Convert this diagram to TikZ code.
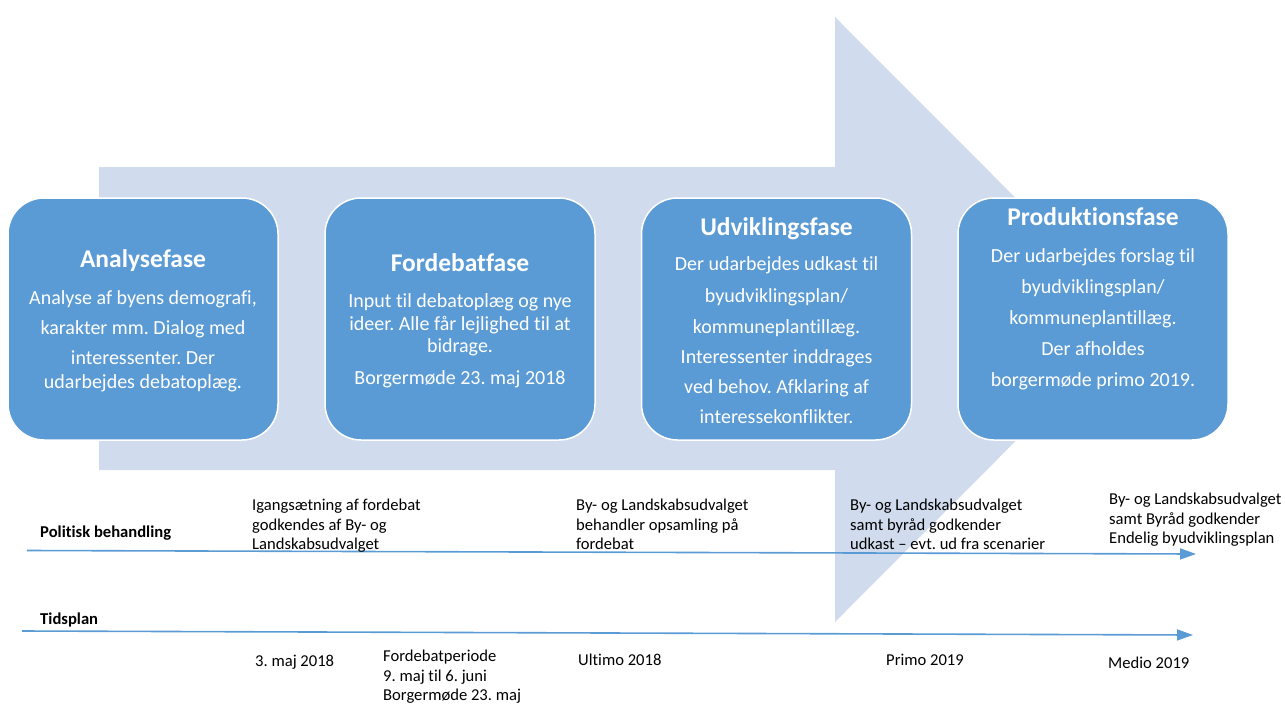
\documentclass[tikz,border=0pt]{standalone}
\usepackage{fontspec}
\setmainfont{Carlito}[Ligatures={TeX,NoCommon}]
\usetikzlibrary{arrows.meta}
\frenchspacing

\definecolor{phaseblue}{RGB}{91,155,213}
\definecolor{arrowshade}{RGB}{208,220,238}

\tikzset{
  phase/.style={draw=white, line width=1.5pt, fill=phaseblue, rounded corners=36pt,
    minimum width=270pt, minimum height=242pt},
  phasetext/.style={text=white, align=center, font=\fontsize{20}{24}\selectfont},
  note/.style={anchor=north west, inner sep=0pt, align=left, font=\fontsize{16.6}{19.6}\selectfont},
  heading/.style={note, font=\fontsize{16.6}{19.6}\selectfont\bfseries},
  timeline/.style={draw=phaseblue, line width=1.6pt, -{Triangle[length=16pt,width=11pt]}},
}
\newcommand{\phasetitle}[1]{{\fontsize{25.5}{30}\selectfont\bfseries #1}}

\begin{document}
\begin{tikzpicture}[x=1pt, y=-1pt]
\useasboundingbox (0,0) rectangle (1285,704);

\fill[arrowshade] (99,167) -- (835,167) -- (835,17) -- (1137,319.5) -- (835,622) -- (835,470) -- (99,470) -- cycle;

\node[phase] (p1) at (143,319) {};
\node[phase] (p2) at (460,319) {};
\node[phase] (p3) at (776.5,319) {};
\node[phase] (p4) at (1093,319) {};

\node[phasetext] (t1) at (143,321) {\phasetitle{Analysefase}\\[13pt]
  Analyse af byens demografi,\\[6pt]
  karakter mm. Dialog med\\[6pt]
  interessenter. Der\\
  udarbejdes debatoplæg.};
\node[phasetext] (t2) at (460,321) {\phasetitle{Fordebatfase}\\[12pt]
  Input til debatoplæg og nye\\[-1pt]
  ideer. Alle får lejlighed til at\\[-2pt]
  bidrage.\\[8pt]
  Borgermøde 23. maj 2018};
\node[phasetext] (t3) at (776.5,321) {\phasetitle{Udviklingsfase}\\[11pt]
  Der udarbejdes udkast til\\[8pt]
  byudviklingsplan/\\[7pt]
  kommuneplantillæg.\\[6pt]
  Interessenter inddrages\\[6pt]
  ved behov. Afklaring af\\[6pt]
  interessekonflikter.};
\node[phasetext] (t4) at (1093,299) {\phasetitle{Produktionsfase}\\[13pt]
  Der udarbejdes forslag til\\[7pt]
  byudviklingsplan/\\[7pt]
  kommuneplantillæg.\\[7pt]
  Der afholdes\\[7pt]
  borgermøde primo 2019.};

\node[heading] (politisk) at (40,526) {Politisk behandling};
\node[heading] (tidsplan) at (40,613) {Tidsplan};

\coordinate (pol start) at (27,550.5);
\coordinate (pol end) at (1196,554);
\coordinate (tid start) at (22,631);
\coordinate (tid end) at (1193,635);
\draw[timeline] (pol start) -- (pol end);
\draw[timeline] (tid start) -- (tid end);

\node[note] (igang) at (252,499) {Igangsætning af fordebat\\godkendes af By- og\\Landskabsudvalget};
\node[note] (opsamling) at (576,499) {By- og Landskabsudvalget\\behandler opsamling på\\fordebat};
\node[note] (udkast) at (850,499) {By- og Landskabsudvalget\\samt byråd godkender\\udkast -- evt. ud fra scenarier};
\node[note] (endelig) at (1109,493) {By- og Landskabsudvalget\\samt Byråd godkender\\Endelig byudviklingsplan};

\node[note] (maj) at (255,655) {3. maj 2018};
\node[note] (periode) at (383,650) {Fordebatperiode\\9. maj til 6. juni\\Borgermøde 23. maj};
\node[note] (ultimo) at (578,654) {Ultimo 2018};
\node[note] (primo) at (886,654) {Primo 2019};
\node[note] (medio) at (1108,657) {Medio 2019};
\end{tikzpicture}
\end{document}
